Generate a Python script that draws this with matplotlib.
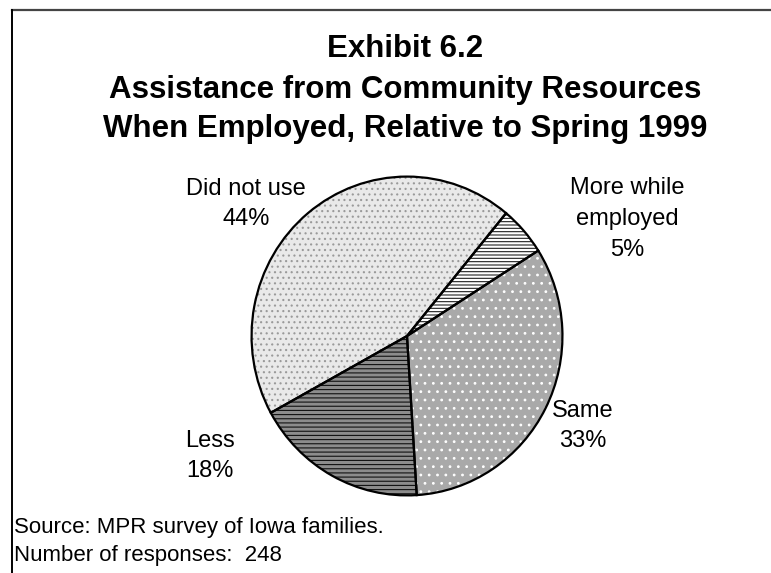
import matplotlib
matplotlib.use("Agg")
import matplotlib.pyplot as plt
from matplotlib.lines import Line2D

plt.rcParams['font.family'] = ['Liberation Sans', 'DejaVu Sans']
plt.rcParams['hatch.linewidth'] = 0.8

categories = ['Did not use', 'More while\nemployed', 'Same', 'Less']
shares = [44, 5, 33, 18]
title_lines = ['Exhibit 6.2', 'Assistance from Community Resources',
               'When Employed, Relative to Spring 1999']
source_lines = ['Source: MPR survey of Iowa families.', 'Number of responses:  248']

# grayscale fills roughly like the scanned patterns
face_colors = ['#e9e9e9', '#ffffff', '#a9a9a9', '#8c8c8c']
hatch_colors = ['#9a9a9a', '#202020', '#ffffff', '#111111']
hatches = ['...', '-----', '..', '----']

W, H = 771, 573
fig = plt.figure(figsize=(W / 100, H / 100), dpi=100)

# pie occupies roughly x 250..564, y 175..497 in pixels
ax = fig.add_axes([250 / W, 1 - 497 / H, 314 / W, 322 / H])

wedges, _ = ax.pie(shares, startangle=208.8, counterclock=False, radius=1,
                   colors=face_colors, wedgeprops=dict(linewidth=0))
for w, hc, h in zip(wedges, hatch_colors, hatches):
    w.set_hatch(h)
    w.set_edgecolor(hc)
    w.set_linewidth(0)

# outlines on top
outline, _ = ax.pie(shares, startangle=208.8, counterclock=False, radius=1,
                    wedgeprops=dict(fill=False, edgecolor='black', linewidth=1.6))
ax.set_aspect('auto')
ax.set_xlim(-1.01, 1.01)
ax.set_ylim(-1.01, 1.01)
ax.axis('off')


def px(x, y):
    return x / W, 1 - y / H


# titles
title_y = [49, 90, 129]
for line, y in zip(title_lines, title_y):
    fig.text(*px(405, y), line, ha='center', va='center',
             fontsize=22.5, fontweight='bold')

# slice labels
label_pos = [(246, 204), (627, 219), (583, 426), (210, 456)]
for name, val, (x, y) in zip(categories, shares, label_pos):
    fig.text(*px(x, y), f'{name}\n{val}%', ha='center', va='center',
             fontsize=17, linespacing=1.5)

# source notes
for line, y in zip(source_lines, [527, 556]):
    fig.text(*px(14, y), line, ha='left', va='center', fontsize=16)

# frame lines (top and left only)
fig.add_artist(Line2D([12 / W, 1], [1 - 9.5 / H] * 2, color='#444444', linewidth=1.6,
                      transform=fig.transFigure))
fig.add_artist(Line2D([12 / W] * 2, [1 - 9.5 / H, 0], color='black', linewidth=1.4,
                      transform=fig.transFigure))

fig.savefig('out.png', dpi=100)
